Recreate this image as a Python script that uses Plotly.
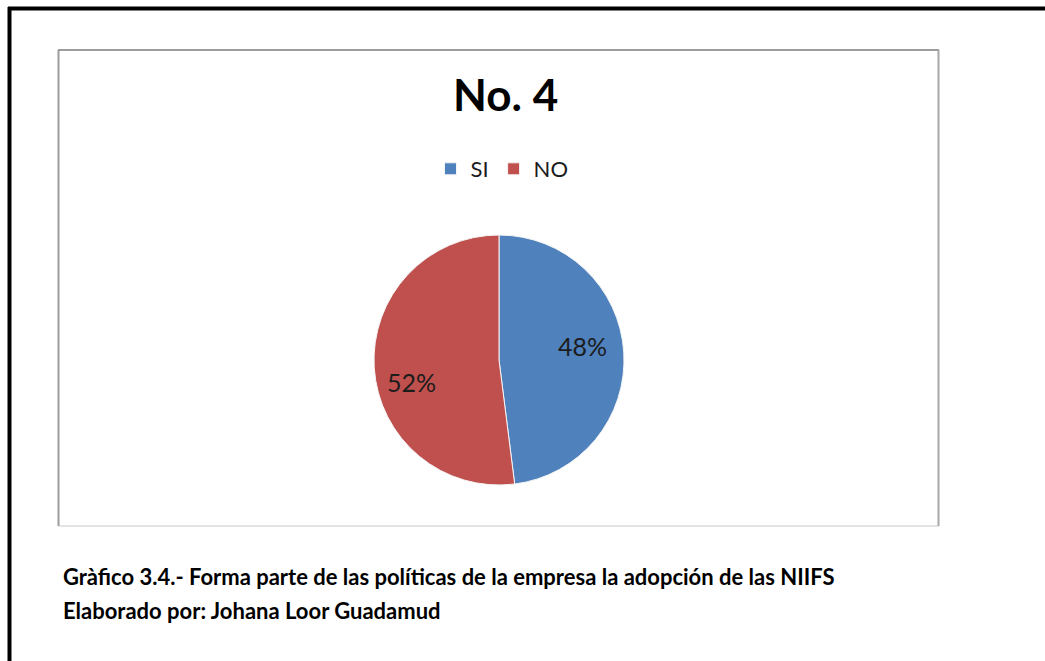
import plotly.graph_objects as go

# Survey answers: share of companies whose policies include adopting the NIIFS
labels = ["SI", "NO"]
values = [48, 52]
colors = ["#4F81BD", "#C0504D"]

title_text = "No. 4"
caption_lines = [
    "Gràfico 3.4.- Forma parte de las políticas de la empresa la adopción de las NIIFS",
    "Elaborado por: Johana Loor Guadamud",
]

W, H = 1045, 661
FONT = "Lato"


def fx(px):
    return px / W


def fy(py):
    return 1 - py / H


# Pie placement (pixels on the page)
cx, cy, r = 499, 360, 125
# where each slice's percentage label sits (pixels on the page)
label_pos = [(582, 346), (411, 382)]

fig = go.Figure()
fig.add_trace(
    go.Pie(
        labels=labels,
        values=values,
        sort=False,
        direction="clockwise",
        rotation=0,
        marker=dict(colors=colors, line=dict(color="#f4f4f4", width=1)),
        textinfo="none",
        domain=dict(x=[fx(cx - r), fx(cx + r)], y=[fy(cy + r), fy(cy - r)]),
        hoverinfo="label+percent",
    )
)

total = sum(values)
pct_labels = [f"{round(v / total * 100)}%" for v in values]

shapes = [
    # page frame (top and left rules)
    dict(type="line", xref="paper", yref="paper", x0=fx(8), x1=fx(1046),
         y0=fy(8.5), y1=fy(8.5), line=dict(color="#000000", width=4)),
    dict(type="line", xref="paper", yref="paper", x0=fx(9.5), x1=fx(9.5),
         y0=fy(7), y1=fy(662), line=dict(color="#000000", width=4)),
    # chart area border
    dict(type="line", xref="paper", yref="paper", x0=fx(58.5), x1=fx(938.5),
         y0=fy(526), y1=fy(526), line=dict(color="#e4e4e4", width=2)),
    dict(type="line", xref="paper", yref="paper", x0=fx(58), x1=fx(939),
         y0=fy(50), y1=fy(50), line=dict(color="#9c9c9c", width=2)),
    dict(type="line", xref="paper", yref="paper", x0=fx(58.5), x1=fx(58.5),
         y0=fy(50), y1=fy(526), line=dict(color="#9c9c9c", width=2)),
    dict(type="line", xref="paper", yref="paper", x0=fx(938.5), x1=fx(938.5),
         y0=fy(50), y1=fy(526), line=dict(color="#a8a8a8", width=2)),
]

annotations = [
    dict(text=f"<b>{title_text}</b>", xref="paper", yref="paper",
         x=fx(505), y=fy(94), xanchor="center", yanchor="middle",
         showarrow=False, font=dict(family=FONT, size=44, color="#000000")),
    dict(text=f"<b>{caption_lines[0]}</b>", xref="paper", yref="paper",
         x=fx(61), y=fy(576), xanchor="left", yanchor="middle",
         showarrow=False, font=dict(family=FONT, size=22, color="#000000")),
    dict(text=f"<b>{caption_lines[1]}</b>", xref="paper", yref="paper",
         x=fx(61), y=fy(610), xanchor="left", yanchor="middle",
         showarrow=False, font=dict(family=FONT, size=22, color="#000000")),
]

for txt, (lx, ly) in zip(pct_labels, label_pos):
    annotations.append(
        dict(text=txt, xref="paper", yref="paper", x=fx(lx), y=fy(ly),
             xanchor="center", yanchor="middle", showarrow=False,
             font=dict(family=FONT, size=25, color="#1c1c1c"))
    )

fig.update_layout(
    width=W,
    height=H,
    margin=dict(l=0, r=0, t=0, b=0),
    paper_bgcolor="#ffffff",
    plot_bgcolor="#ffffff",
    showlegend=True,
    legend=dict(
        orientation="h",
        x=fx(502), y=fy(169), xanchor="center", yanchor="middle",
        font=dict(family=FONT, size=22, color="#1c1c1c"),
        itemwidth=30,
        traceorder="normal",
        bgcolor="rgba(0,0,0,0)",
    ),
    shapes=shapes,
    annotations=annotations,
)

fig.write_html("out.html")
